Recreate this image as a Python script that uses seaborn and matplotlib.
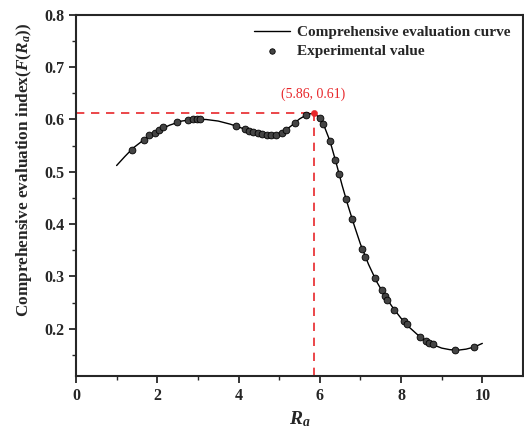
import matplotlib
matplotlib.use("Agg")
import matplotlib.pyplot as plt
import seaborn as sns
import pandas as pd

# Fitted comprehensive evaluation curve
curve_x = [1.0, 1.2, 1.4, 1.7, 2.0, 2.3, 2.6, 2.9, 3.2, 3.5, 3.8, 4.1, 4.4, 4.7, 4.9,
           5.1, 5.3, 5.5, 5.7, 5.86, 6.0, 6.1, 6.25, 6.4, 6.55, 6.7, 6.85, 7.0, 7.2,
           7.4, 7.6, 7.8, 8.0, 8.2, 8.4, 8.6, 8.8, 9.0, 9.2, 9.4, 9.6, 9.8, 10.0]
curve_y = [0.512, 0.529, 0.545, 0.563, 0.578, 0.589, 0.597, 0.600, 0.600, 0.597, 0.591,
           0.583, 0.576, 0.571, 0.571, 0.576, 0.588, 0.601, 0.610, 0.612, 0.603, 0.589,
           0.559, 0.518, 0.474, 0.434, 0.397, 0.362, 0.323, 0.290, 0.263, 0.240, 0.220,
           0.203, 0.189, 0.177, 0.169, 0.163, 0.160, 0.159, 0.161, 0.165, 0.172]

# Experimental values
exp_x = [1.39, 1.68, 1.80, 1.94, 2.05, 2.15, 2.49, 2.76, 2.88, 2.98, 3.05, 3.93, 4.16,
         4.26, 4.36, 4.48, 4.57, 4.69, 4.81, 4.93, 5.06, 5.18, 5.38, 5.67, 6.00, 6.08,
         6.25, 6.37, 6.47, 6.64, 6.80, 7.04, 7.12, 7.35, 7.52, 7.61, 7.66, 7.83, 8.07,
         8.14, 8.47, 8.62, 8.68, 8.79, 9.34, 9.79]
exp_y = [0.542, 0.561, 0.570, 0.575, 0.580, 0.585, 0.595, 0.599, 0.600, 0.600, 0.600,
         0.588, 0.581, 0.578, 0.576, 0.574, 0.572, 0.571, 0.571, 0.571, 0.575, 0.580,
         0.593, 0.609, 0.602, 0.591, 0.559, 0.523, 0.496, 0.448, 0.409, 0.352, 0.338,
         0.297, 0.274, 0.263, 0.255, 0.236, 0.214, 0.209, 0.185, 0.176, 0.173, 0.170,
         0.159, 0.166]

opt_x = [5.86]
opt_y = [0.612]
opt_label = "(5.86, 0.61)"

x_ticks = [0, 2, 4, 6, 8, 10]
y_ticks = [0.2, 0.3, 0.4, 0.5, 0.6, 0.7, 0.8]

sns.set_style("ticks")
plt.rcParams['font.family'] = ['Liberation Serif', 'DejaVu Serif']
plt.rcParams['mathtext.fontset'] = 'custom'
plt.rcParams['mathtext.it'] = 'Liberation Serif:italic:bold'
plt.rcParams['mathtext.rm'] = 'Liberation Serif:bold'
plt.rcParams['mathtext.bf'] = 'Liberation Serif:bold'

fig = plt.figure(figsize=(5.24, 4.37), dpi=100)
ax = fig.add_axes([0.145, 0.140, 0.853, 0.826])

df_curve = pd.DataFrame({"x": curve_x, "y": curve_y})
df_exp = pd.DataFrame({"x": exp_x, "y": exp_y})

sns.lineplot(data=df_curve, x="x", y="y", ax=ax, color="black", lw=1.0,
             label="Comprehensive evaluation curve", sort=True)
sns.scatterplot(data=df_exp, x="x", y="y", ax=ax, s=24, color="#444444",
                edgecolor="black", linewidth=0.6, label="Experimental value", zorder=3)

# optimum marker and guide lines
ax.plot([0, opt_x[0]], [opt_y[0], opt_y[0]], ls=(0, (5, 4)), color="#e8262a", lw=1.2, zorder=2)
ax.plot([opt_x[0], opt_x[0]], [0.11, opt_y[0]], ls=(0, (5, 4)), color="#e8262a", lw=1.2, zorder=2)
sns.scatterplot(x=opt_x, y=opt_y, ax=ax, s=20, color="#e8262a", edgecolor="#e8262a",
                zorder=4, legend=False)
ax.text(opt_x[0] - 0.03, 0.636, opt_label, color="#e8262a", fontsize=10,
        ha="center", va="bottom")

ax.set_xlim(0, 11)
ax.set_ylim(0.11, 0.8)
ax.set_xticks(x_ticks)
ax.set_yticks(y_ticks)
ax.set_xticks([1, 3, 5, 7, 9], minor=True)
ax.set_yticks([0.15, 0.25, 0.35, 0.45, 0.55, 0.65, 0.75], minor=True)
ax.tick_params(axis="both", which="major", direction="out", length=5, width=1.3,
               labelsize=11.5)
ax.tick_params(axis="both", which="minor", direction="out", length=3, width=1.0)
for lab in ax.get_xticklabels() + ax.get_yticklabels():
    lab.set_fontweight("bold")
for sp in ax.spines.values():
    sp.set_linewidth(1.5)
    sp.set_visible(True)

ax.set_xlabel("$R_a$", fontsize=14, labelpad=4)
ax.set_ylabel(r"Comprehensive evaluation index($F(R_a)$)", fontsize=12.4,
              fontweight="bold")
ax.yaxis.set_label_coords(-0.094, 0.571)

leg = ax.legend(loc="upper right", frameon=False, prop={"weight": "bold", "size": 11},
                handlelength=2.4, handletextpad=0.4, borderaxespad=0.3,
                labelspacing=0.3, markerscale=0.8, bbox_to_anchor=(0.995, 1.0))

fig.savefig("out.png", dpi=100)
